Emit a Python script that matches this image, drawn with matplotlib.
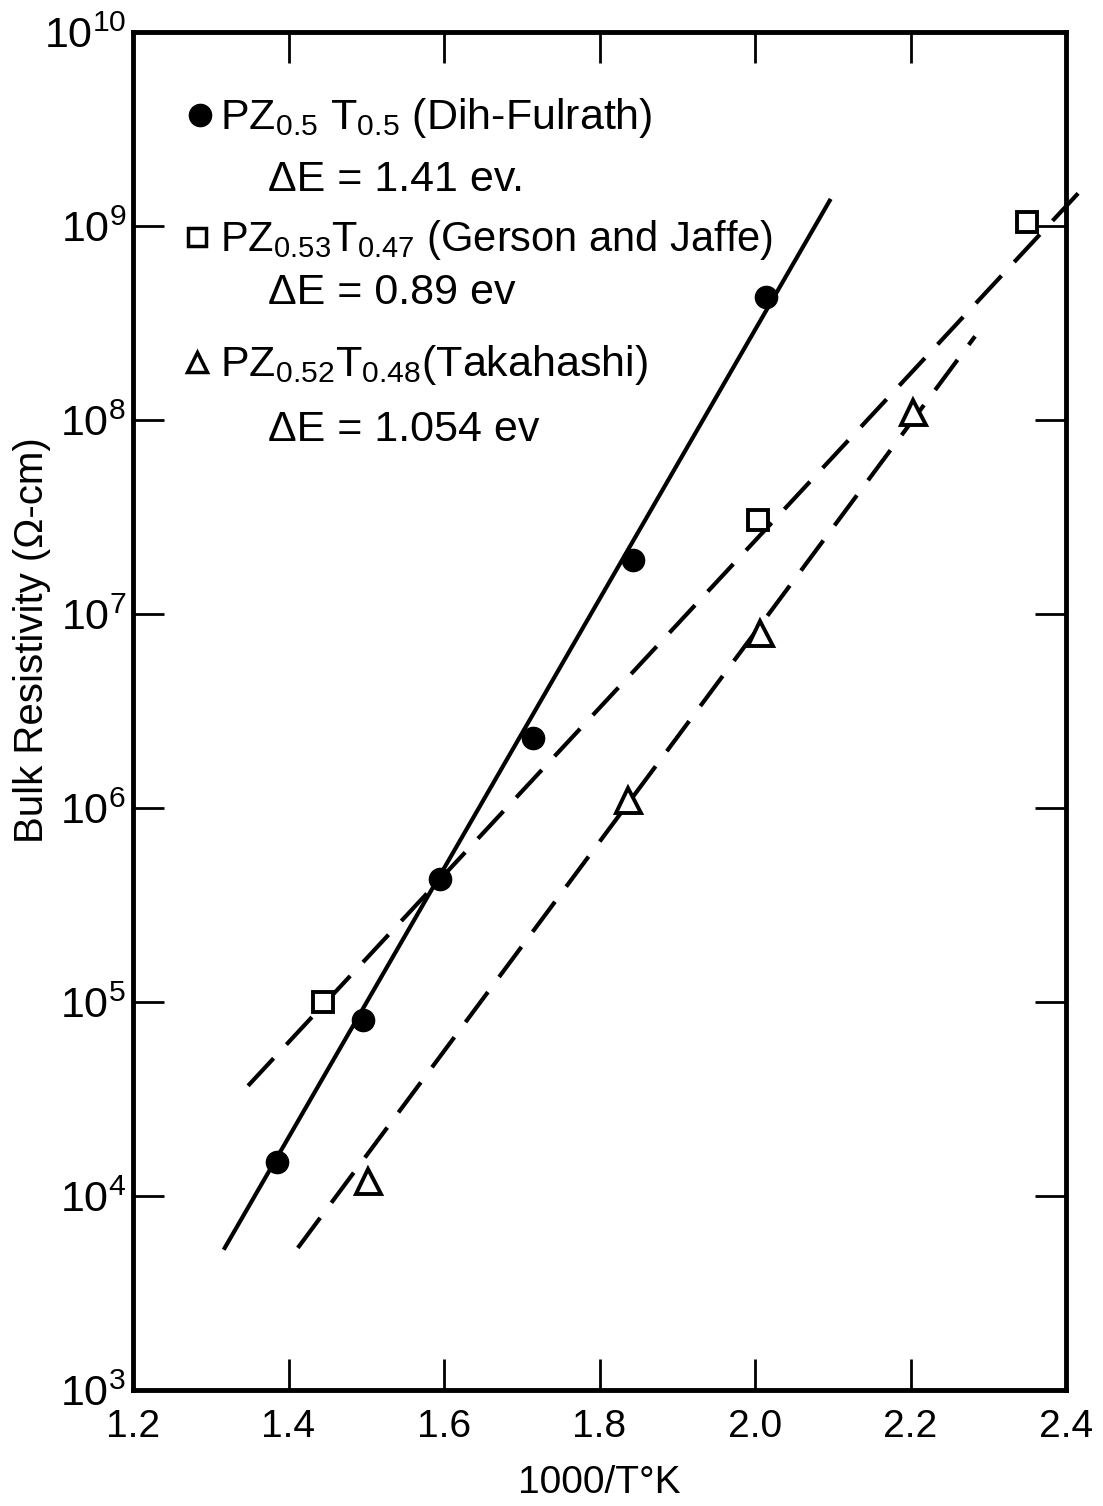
import numpy as np
import matplotlib
matplotlib.use("Agg")
import matplotlib.pyplot as plt

plt.rcParams['font.family'] = ['Liberation Sans', 'DejaVu Sans']
plt.rcParams['mathtext.fontset'] = 'custom'
plt.rcParams['mathtext.rm'] = 'Liberation Sans'
plt.rcParams['mathtext.default'] = 'regular'

# Dih-Fulrath PZ0.5 T0.5 (filled circles, solid line)
x_dih = [1.385, 1.496, 1.595, 1.714, 1.843, 2.014]
y_dih = [1.5e4, 8.1e4, 4.3e5, 2.3e6, 1.9e7, 4.3e8]
fit_dih_x = [1.318, 2.096]
fit_dih_y = [5.4e3, 1.35e9]

# Gerson and Jaffe PZ0.53 T0.47 (open squares, dashed line)
x_gj = [1.444, 2.004, 2.350]
y_gj = [1.0e5, 3.05e7, 1.05e9]
fit_gj_x = [1.348, 2.43]
fit_gj_y = [3.7e4, 1.7e9]

# Takahashi PZ0.52 T0.48 (open triangles, dashed line)
x_tk = [1.502, 1.837, 2.006, 2.203]
y_tk = [1.2e4, 1.1e6, 8.0e6, 1.1e8]
fit_tk_x = [1.412, 2.283]
fit_tk_y = [5.4e3, 2.7e8]

xticks = [1.2, 1.4, 1.6, 1.8, 2.0, 2.2, 2.4]
xtick_labels = ['1.2', '1.4', '1.6', '1.8', '2.0', '2.2', '2.4']
yexps = [3, 4, 5, 6, 7, 8, 9, 10]

fig = plt.figure(figsize=(11.03, 15.06), dpi=100)
ax = fig.add_axes([133/1103, 1 - 1390/1506, 933/1103, 1358/1506])

ax.set_yscale('log')
ax.set_xlim(1.2, 2.4)
ax.set_ylim(1e3, 1e10)

lw = 3
dash = (0, (9, 4.5))
ax.plot(fit_dih_x, fit_dih_y, '-', color='black', lw=lw, clip_on=False)
ax.plot(fit_gj_x, fit_gj_y, linestyle=dash, color='black', lw=lw, clip_on=False)
ax.plot(fit_tk_x, fit_tk_y, linestyle=dash, color='black', lw=lw, clip_on=False)

ax.plot(x_dih, y_dih, 'o', ms=16, color='black', zorder=5)
ax.plot(x_gj, y_gj, 's', ms=15, mfc='white', mec='black', mew=2.8, zorder=5)
ax.plot(x_tk, y_tk, '^', ms=18, mfc='white', mec='black', mew=2.8, zorder=5)

ax.set_xticks(xticks)
ax.set_xticklabels(xtick_labels)
ax.set_yticks([10.0 ** e for e in yexps])
ax.set_yticklabels([r'$10^{%d}$' % e for e in yexps])
ax.minorticks_off()
ax.tick_params(axis='both', direction='in', length=22, width=2,
               top=True, right=True)
ax.tick_params(axis='x', pad=14, labelsize=28)
ax.tick_params(axis='y', pad=5, labelsize=31)
for s in ax.spines.values():
    s.set_linewidth(3.5)

ax.set_xlabel('1000/T°K', fontsize=28, labelpad=14)
ax.set_ylabel('Bulk Resistivity (Ω-cm)', fontsize=29)
ax.yaxis.set_label_coords(-0.088, 0.552)

# legend drawn as text
tf = ax.transAxes
fs = 31
ax.plot([0.072], [0.939], 'o', ms=16, color='black', transform=tf)
ax.text(0.093, 0.937, r'PZ$_{0.5}$ T$_{0.5}$ (Dih-Fulrath)', transform=tf,
        fontsize=fs, va='center')
ax.text(0.145, 0.891, 'ΔE = 1.41 ev.', transform=tf, fontsize=fs, va='center')
ax.plot([0.069], [0.849], 's', ms=13, mfc='white', mec='black', mew=2.5, transform=tf)
ax.text(0.093, 0.847, r'PZ$_{0.53}$T$_{0.47}$ (Gerson and Jaffe)', transform=tf,
        fontsize=fs - 1, va='center')
ax.text(0.145, 0.808, 'ΔE = 0.89 ev', transform=tf, fontsize=fs, va='center')
ax.plot([0.069], [0.757], '^', ms=14, mfc='white', mec='black', mew=2.5, transform=tf)
ax.text(0.093, 0.755, r'PZ$_{0.52}$T$_{0.48}$(Takahashi)', transform=tf,
        fontsize=fs, va='center')
ax.text(0.145, 0.707, 'ΔE = 1.054 ev', transform=tf, fontsize=fs, va='center')

fig.savefig('out.png', dpi=100)
